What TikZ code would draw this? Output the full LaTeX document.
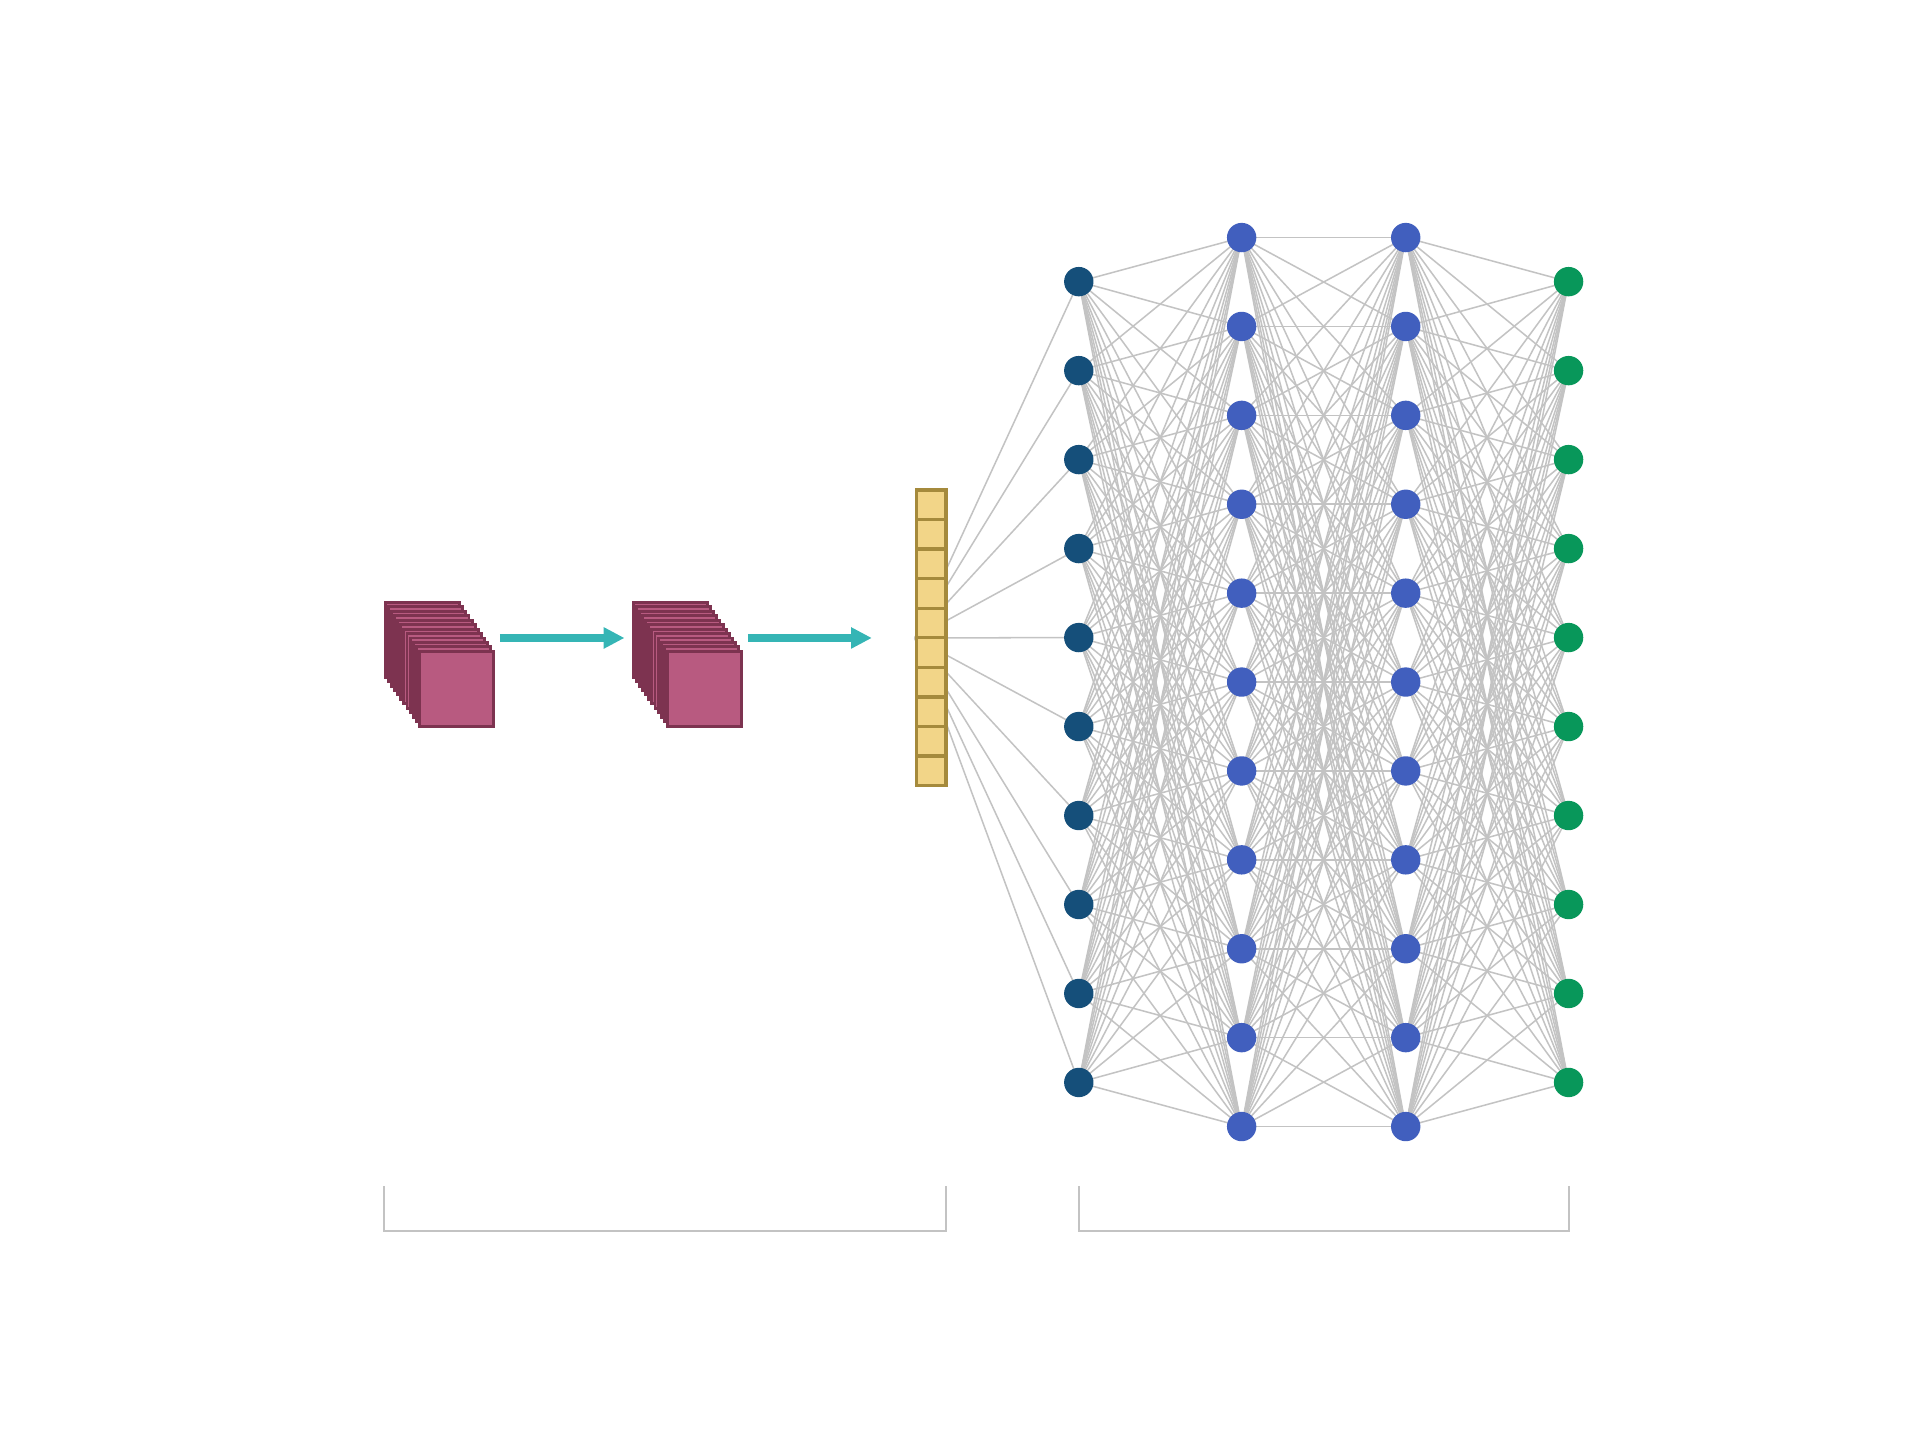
\documentclass[tikz,border=0pt]{standalone}
\usetikzlibrary{arrows.meta,backgrounds,calc}
\definecolor{darkblue}{HTML}{154F7A}
\definecolor{midblue}{HTML}{415FBE}
\definecolor{outgreen}{HTML}{08975A}
\definecolor{edgegray}{HTML}{C3C3C3}
\definecolor{tealc}{HTML}{35B5B5}
\definecolor{mapfill}{HTML}{B85A80}
\definecolor{mapdraw}{HTML}{7D3350}
\definecolor{vecfill}{HTML}{F2D588}
\definecolor{vecdraw}{HTML}{A58A3C}
\tikzset{
  neuron/.style={circle,inner sep=0pt,minimum size=24pt},
  inneuron/.style={neuron,fill=darkblue},
  hidneuron/.style={neuron,fill=midblue},
  outneuron/.style={neuron,fill=outgreen},
  edge/.style={draw=edgegray,line width=1.25pt},
  fmap/.style={rectangle,draw=mapdraw,fill=mapfill,line width=2.4pt,inner sep=0pt,minimum width=60.6pt,minimum height=61.1pt,anchor=north west},
  cell/.style={rectangle,draw=vecdraw,fill=vecfill,line width=2.7pt,inner sep=0pt,minimum width=23.9pt,minimum height=24.15pt},
  arr/.style={draw=tealc,line width=6.5pt,-{Triangle[length=17pt,width=16.4pt]}},
  brk/.style={draw=edgegray,line width=1.6pt}
}
\begin{document}
\begin{tikzpicture}[x=1pt,y=-1pt]
\useasboundingbox (0,0) rectangle (1568,1176);
% feature map stacks
\foreach \s/\ox in {1/0,2/202.5}{
  \foreach \k in {0,...,11}{
    \node[fmap] (m\s-\k) at ({313.7+\ox+\k*2.5},{490.7+\k*3.64}) {};
  }
}
% arrows
\coordinate (a1s) at (408.3,521);
\coordinate (a1e) at (510,521);
\coordinate (a2s) at (610.8,521);
\coordinate (a2e) at (712,521);
\draw[arr] (a1s) -- (a1e);
\draw[arr] (a2s) -- (a2e);
% flattened vector
\foreach \k in {0,...,9}{
  \node[cell] (v\k) at (760.6,{412.2+\k*24.15}) {};
}
\coordinate (vsrc) at (747,521);
% neurons
\foreach \i in {0,...,9}{
  \node[inneuron] (a\i) at (881,{230+72.667*\i}) {};
  \node[outneuron] (d\i) at (1281,{230+72.667*\i}) {};
}
\foreach \i in {0,...,10}{
  \node[hidneuron] (b\i) at (1014,{194+72.6*\i}) {};
  \node[hidneuron] (c\i) at (1148,{194+72.6*\i}) {};
}
\begin{pgfonlayer}{background}
  \foreach \i in {0,...,9}{ \draw[edge] (vsrc) -- (a\i.center); }
  \foreach \i in {0,...,9}{
    \foreach \j in {0,...,10}{
      \draw[edge] (a\i.center) -- (b\j.center);
      \draw[edge] (c\j.center) -- (d\i.center);
    }
  }
  \foreach \i in {0,...,10}{
    \foreach \j in {0,...,10}{
      \draw[edge] (b\i.center) -- (c\j.center);
    }
  }
\end{pgfonlayer}
% brackets
\coordinate (l1) at (313.6,968.6);
\coordinate (l2) at (313.6,1005.3);
\coordinate (l3) at (772.5,1005.3);
\coordinate (l4) at (772.5,968.6);
\coordinate (r1) at (881.5,968.6);
\coordinate (r2) at (881.5,1005.3);
\coordinate (r3) at (1281.5,1005.3);
\coordinate (r4) at (1281.5,968.6);
\draw[brk] (l1) -- (l2) -- (l3) -- (l4);
\draw[brk] (r1) -- (r2) -- (r3) -- (r4);
\end{tikzpicture}
\end{document}
